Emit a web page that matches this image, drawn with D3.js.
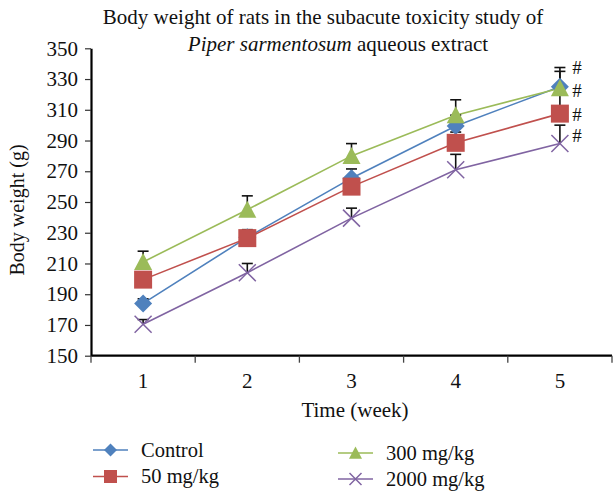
<!DOCTYPE html>
<html><head><meta charset="utf-8">
<script src="https://cdn.jsdelivr.net/npm/d3@7"></script>
<style>
html,body{margin:0;padding:0;background:#fff;}
svg text{font-family:"Liberation Serif","DejaVu Serif",serif;fill:#111;}
</style></head>
<body><svg id="c" width="614" height="491"></svg>
<script>
const weeks = ["1","2","3","4","5"];
const seriesNames = ["Control","50 mg/kg","300 mg/kg","2000 mg/kg"];
const control = [184, 227, 265.5, 299.5, 325];
const dose50 = [199.5, 226.5, 260, 288.5, 307.5];
const dose300 = [211, 245, 280, 306.5, 324];
const dose2000 = [170.5, 204, 239.5, 271, 288];
const errControl = [3, 4, 6, 7, 10];
const err50 = [4, 5.5, 5, 7, 14];
const err300 = [7, 9, 8, 10, 13.5];
const err2000 = [3, 6, 6.5, 10, 12];
const yTicks = [150,170,190,210,230,250,270,290,310,330,350];
const hashValues = [337.5, 322.5, 307, 293.5];
const colors = ["#4F81BD","#C0504D","#9BBB59","#8064A2"];
const shapes = ["diamond","square","triangle","cross"];

const svg = d3.select("#c");
const x = d3.scaleBand().domain(weeks).range([91, 612]).padding(0);
const y = d3.scaleLinear().domain([150, 350]).range([355.7, 48.3]);
const cx = d => x(d) + x.bandwidth()/2;

const values = [control, dose50, dose300, dose2000];
const errs = [errControl, err50, err300, err2000];

// Title
const t = svg.append("text").attr("text-anchor","middle").style("font-size","21px");
t.append("tspan").attr("x",323).attr("y",24).text("Body weight of rats in the subacute toxicity study of");
const t2 = t.append("tspan").attr("x",338).attr("y",51);
t2.append("tspan").style("font-style","italic").text("Piper sarmentosum");
t2.append("tspan").text(" aqueous extract");

// Y axis
const yAxis = d3.axisLeft(y).tickValues(yTicks).tickSize(6).tickSizeOuter(0).tickPadding(7);
const gy = svg.append("g").attr("transform","translate(91,0)").call(yAxis);
gy.select(".domain").attr("stroke","#000").attr("stroke-width",2.2);
gy.selectAll(".tick line").attr("stroke","#333").attr("stroke-width",1.2);
gy.selectAll(".tick text").style("font-size","21px").attr("font-family",null).attr("fill","#111");

// X axis: baseline line + boundary ticks
const gx = svg.append("g");
gx.append("line").attr("x1",91).attr("x2",612).attr("y1",y(150)).attr("y2",y(150)).attr("stroke","#000").attr("stroke-width",2.2);
const bounds = weeks.map(w => x(w)).concat([x(weeks[weeks.length-1]) + x.bandwidth()]);
gx.selectAll("line.tk").data(bounds).join("line").attr("class","tk")
  .attr("x1",d=>d).attr("x2",d=>d).attr("y1",y(150)).attr("y2",y(150)+7)
  .attr("stroke","#444").attr("stroke-width",1.3);
gx.selectAll("text.tl").data(weeks).join("text").attr("class","tl")
  .attr("x",d=>cx(d)).attr("y",y(150)+32).attr("text-anchor","middle").style("font-size","21px").text(d=>d);

// Axis titles
svg.append("text").attr("x",355).attr("y",417).attr("text-anchor","middle").style("font-size","21px").text("Time (week)");
svg.append("text").attr("transform","translate(24,210) rotate(-90)").attr("text-anchor","middle").style("font-size","20px").text("Body weight (g)");

// Lines
const line = d3.line().x((d,i)=>cx(weeks[i])).y(d=>y(d));
values.forEach((v,k)=>{
  svg.append("path").datum(v).attr("d",line).attr("fill","none").attr("stroke",colors[k]).attr("stroke-width",1.6);
});

// Error bars (upward)
values.forEach((v,k)=>{
  const g = svg.append("g");
  v.forEach((val,i)=>{
    const xx = cx(weeks[i]);
    const top = y(val + errs[k][i]);
    g.append("line").attr("x1",xx).attr("x2",xx).attr("y1",y(val)).attr("y2",top).attr("stroke","#111").attr("stroke-width",1.6);
    g.append("line").attr("x1",xx-5.5).attr("x2",xx+5.5).attr("y1",top).attr("y2",top).attr("stroke","#111").attr("stroke-width",1.6);
  });
});

function marker(g, shape, color, px, py, s){
  if(shape==="diamond"){
    g.append("path").attr("d",`M${px},${py-s}L${px+s},${py}L${px},${py+s}L${px-s},${py}Z`).attr("fill",color);
  } else if(shape==="square"){
    g.append("rect").attr("x",px-s).attr("y",py-s).attr("width",2*s).attr("height",2*s).attr("fill",color);
  } else if(shape==="triangle"){
    g.append("path").attr("d",`M${px},${py-s}L${px+s},${py+s*0.9}L${px-s},${py+s*0.9}Z`).attr("fill",color);
  } else {
    g.append("path").attr("d",`M${px-s},${py-s}L${px+s},${py+s}M${px-s},${py+s}L${px+s},${py-s}`).attr("stroke",color).attr("stroke-width",1.5).attr("fill","none");
  }
}

// Markers
values.forEach((v,k)=>{
  const g = svg.append("g");
  v.forEach((val,i)=> marker(g, shapes[k], colors[k], cx(weeks[i]), y(val), k===3?8.5:9));
});

// Hash annotations
svg.selectAll("text.hash").data(hashValues).join("text").attr("class","hash")
  .attr("x",cx(weeks[4])+17).attr("y",d=>y(d)).attr("dy","0.35em").attr("text-anchor","middle")
  .style("font-size","19px").text("#");

// Legend
const legendPos = [[93,450],[93,476.5],[338,453],[338,479]];
seriesNames.forEach((name,k)=>{
  const [lx,ly] = legendPos[k];
  const g = svg.append("g");
  g.append("line").attr("x1",lx).attr("x2",lx+35).attr("y1",ly).attr("y2",ly).attr("stroke",colors[k]).attr("stroke-width",1.6);
  marker(g, shapes[k], colors[k], lx+17.5, ly, k===3?6:6.5);
  g.append("text").attr("x",lx+48).attr("y",ly).attr("dy","0.33em").style("font-size","20.5px").text(name);
});
</script></body></html>
